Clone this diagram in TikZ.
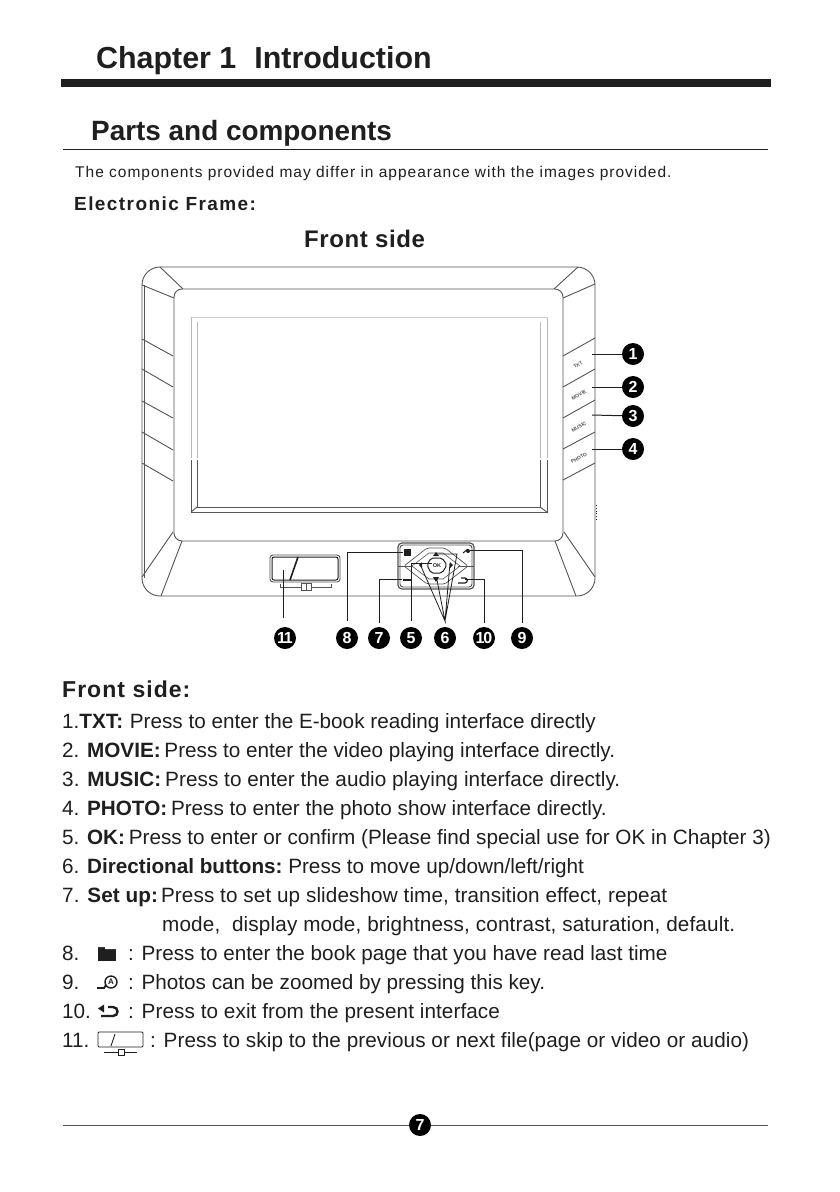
\documentclass[tikz,border=0pt]{standalone}
\usepackage{fontspec}
\setmainfont{Liberation Sans}
\usetikzlibrary{calc}
\definecolor{ink}{gray}{0.12}
\definecolor{wire}{gray}{0.33}
\tikzset{
  wirepen/.style={draw=wire,line width=0.9pt},
  leader/.style={draw=ink,line width=1pt},
  badge/.style={circle,fill=black,text=white,minimum size=22pt,inner sep=0pt,font=\bfseries\fontsize{16}{16}\selectfont},
  bodytext/.style={anchor=base west,inner sep=0pt,text=ink,font=\fontsize{20.7}{21}\selectfont},
  keytext/.style={inner sep=0pt,text=wire,font=\bfseries\fontsize{5}{5}\selectfont,rotate=30},
  headtext/.style={anchor=base west,inner sep=0pt,text=ink},
}
\begin{document}
\begin{tikzpicture}[x=1pt,y=-1pt]
\useasboundingbox (0,0) rectangle (840,1192);
\fill[white] (0,0) rectangle (840,1192);
% headings
\node[headtext,font=\bfseries\fontsize{30.4}{31}\selectfont] (chap) at (96,68) {Chapter 1\hspace{18pt}Introduction};
\fill[ink] (61,79) rectangle (771,87);
\node[headtext,font=\bfseries\fontsize{27.9}{28}\selectfont] (parts) at (91,140) {Parts and components};
\draw[ink,line width=1pt] (63,149) -- (768,149);
\node[headtext,font=\addfontfeatures{LetterSpace=6.4}\fontsize{15.5}{16}\selectfont] (note) at (75,177) {The components provided may differ in appearance with the images provided.};
\node[headtext,font=\bfseries\addfontfeatures{LetterSpace=7.5}\fontsize{19}{20}\selectfont] (ef) at (74,210) {Electronic Frame:};
\node[headtext,font=\bfseries\addfontfeatures{LetterSpace=2.5}\fontsize{24}{24}\selectfont] (fs) at (304,247) {Front side};
% frame
\draw[wirepen,rounded corners=18pt] (142,267) rectangle (595,596);
\draw[wirepen,rounded corners=8pt] (174,289) rectangle (563,541);
\draw[wirepen] (191,512) rectangle (547,317);
\draw[wirepen] (197,458) -- (197,507) -- (540,507) -- (540,458);
\draw[wirepen] (191,512) -- (197,507) (547,512) -- (540,507);
\fill[white] (189,316) rectangle (199,460) (538,316) rectangle (549,460) (189,315.5) rectangle (549,319);
\draw[gray!40,line width=1pt] (190,317) -- (548,317);
\draw[gray!55,line width=1pt] (191,318) -- (191,458) (197,322) -- (197,458) (540,322) -- (540,458) (547,318) -- (547,458);
\draw[wirepen] (142,285) -- (174,298) (160,267) -- (183,289) (563,298) -- (595,284) (554,289) -- (578,267);
\draw[wirepen] (142,577) -- (173,532) (161,596) -- (182,541) (595,577) -- (564,532) (576,596) -- (555,541);
\draw[wirepen] (144,285) -- (144,578);
\draw[wirepen] (142,339) -- (173,356) (142,369) -- (173,387) (142,401) -- (173,418) (142,432) -- (173,450) (142,463) -- (173,481);
\draw[wirepen] (563,356) -- (595,338) (563,387) -- (595,369) (563,418) -- (595,400) (563,449) -- (595,432) (563,480) -- (595,463);
\draw[ink,line width=0.8pt,dotted] (596,505) -- (596,520);
\node[keytext] (ktxt) at (578,365) {TXT};
\node[keytext] (kmov) at (579,395) {MOVIE};
\node[keytext] (kmus) at (579,427) {MUSIC};
\node[keytext] (kpho) at (579,458) {PHOTO};
% slider
\draw[wirepen,rounded corners=3pt] (270,555) rectangle (340,582);
\draw[ink,line width=1pt,rounded corners=2pt] (272,557) rectangle (338,580);
\draw[ink,line width=1.6pt] (298,557) -- (290,580);
\draw[wirepen,line width=0.7pt] (280,584) -- (280,587) -- (301,587) (311,587) -- (331,587) -- (331,584);
\draw[wirepen,line width=0.7pt] (301,583) rectangle (306,590) (306,583) rectangle (311,590);
% control cluster
\draw[wirepen,line width=1.2pt,rounded corners=4pt] (398,543) rectangle (474,589);
\draw[wirepen,rounded corners=3pt] (400,545) rectangle (472,587);
\draw[wirepen,line width=0.7pt,rounded corners=2pt] (404,566) -- (427,548) -- (445,548) -- (468,566) -- (445,584) -- (427,584) -- cycle;
\draw[wirepen,line width=0.6pt] (412,566) -- (429,553) -- (443,553) -- (460,566) -- (443,579) -- (429,579) -- cycle;
\draw[wirepen] (398,566) -- (411,566) (458,566) -- (474,566);
\draw[ink,fill=white,line width=1pt,rounded corners=2pt] (427,565) -- (431,558) -- (442,558) -- (447,565) -- (442,573) -- (431,573) -- cycle;
\node[inner sep=0pt,text=ink,font=\bfseries\fontsize{5.5}{6}\selectfont] (oklab) at (437,565.5) {OK};
\fill[ink] (436,552) -- (433,556) -- (439,556) -- cycle (436,582) -- (433,577) -- (439,577) -- cycle (419,565) -- (422,562) -- (422,568) -- cycle (453,565) -- (450,562) -- (450,568) -- cycle;
\fill[ink] (404,549) rectangle (411,556);
\draw[ink,line width=1pt] (468,549) -- (463,553);
\fill[ink] (468,551) circle (2pt);
\draw[ink,line width=1.2pt] (403,580) -- (412,580);
\draw[ink,line width=1.2pt] (461,578) -- (465,578) .. controls (468,578) and (468,583) .. (465,583) -- (458,583);
% badges
\node[badge] (b1) at (633,354) {1};
\node[badge] (b2) at (633,387) {2};
\node[badge] (b3) at (633,416) {3};
\node[badge] (b4) at (633,449) {4};
\node[badge] (b11) at (285,638) {\addfontfeatures{LetterSpace=-8}11};
\node[badge] (b8) at (347,638) {8};
\node[badge] (b7) at (379,638) {7};
\node[badge] (b5) at (411,638) {5};
\node[badge] (b6) at (445,638) {6};
\node[badge] (b10) at (484,638) {\addfontfeatures{LetterSpace=-8}10};
\node[badge] (b9) at (522,638) {9};
\coordinate (p1) at (592,354);
\coordinate (p2) at (592,387);
\coordinate (p3) at (592,415);
\coordinate (p4) at (592,449);
\draw[leader] (p1) -- (b1);
\draw[leader] (p2) -- (b2);
\draw[leader] (p3) -- (b3);
\draw[leader] (p4) -- (b4);
\coordinate (p11) at (283,570);
\coordinate (q11) at (283,618);
\draw[leader] (p11) -- (q11);
\coordinate (p8) at (403,552);
\coordinate (q8) at (347,621);
\draw[leader] (p8) -| (q8);
\coordinate (p7) at (402,579);
\coordinate (q7) at (379,623);
\draw[leader] (p7) -| (q7);
\coordinate (p5) at (432,563);
\coordinate (q5) at (411,621);
\draw[leader] (p5) -| (q5);
\coordinate (p10) at (465,579);
\coordinate (q10) at (484,623);
\draw[leader] (p10) -| (q10);
\coordinate (p9) at (470,550);
\coordinate (q9) at (522,623);
\draw[leader] (p9) -| (q9);
\coordinate (h6) at (445,621);
\coordinate (a6) at (420,564);
\coordinate (c6) at (437,580);
\coordinate (d6) at (450,563);
\coordinate (e6) at (437,554);
\draw[leader,line width=0.8pt] (a6) -- (h6) -- (c6) (d6) -- (h6) -- (457,554) -- (e6);
% list
\node[headtext,font=\bfseries\addfontfeatures{LetterSpace=4.5}\fontsize{23}{24}\selectfont] (fs2) at (62,697) {Front side:};
\node[bodytext] (l1) at (62,728) {1.\textbf{TXT:}\hspace{1pt} Press to enter the E-book reading interface directly};
\node[bodytext] (l2) at (62,757) {2. \textbf{MOVIE:}\hspace{-2pt} Press to enter the video playing interface directly.};
\node[bodytext,font=\addfontfeatures{LetterSpace=0.35}\fontsize{20.7}{21}\selectfont] (l3) at (62,786) {3. \textbf{MUSIC:}\hspace{-2pt} Press to enter the audio playing interface directly.};
\node[bodytext] (l4) at (62,815) {4. \textbf{PHOTO:}\hspace{-2pt} Press to enter the photo show interface directly.};
\node[bodytext] (l5) at (62,844) {5. \textbf{OK:}\hspace{-2pt} Press to enter or confirm (Please find special use for OK in Chapter 3)};
\node[bodytext] (l6) at (62,873) {6. \textbf{Directional buttons:}\hspace{-2pt} Press to move up/down/left/right};
\node[bodytext,font=\addfontfeatures{LetterSpace=0.5}\fontsize{20.7}{21}\selectfont] (l7) at (62,902) {7. \textbf{Set up:}\hspace{-5pt} Press to set up slideshow time, transition effect, repeat};
\node[bodytext,font=\addfontfeatures{LetterSpace=0.7}\fontsize{20.7}{21}\selectfont] (l7b) at (162,931) {mode,\ \ display mode, brightness, contrast, saturation, default.};
\node[bodytext] (l8) at (62,960) {8.};
\node[bodytext] (l8b) at (128,960) {: Press to enter the book page that you have read last time};
\node[bodytext] (l9) at (62,989) {9.};
\node[bodytext] (l9b) at (128,989) {: Photos can be zoomed by pressing this key.};
\node[bodytext] (l10) at (62,1018) {10.};
\node[bodytext,font=\addfontfeatures{LetterSpace=0.4}\fontsize{20.7}{21}\selectfont] (l10b) at (128,1018) {: Press to exit from the present interface};
\node[bodytext] (l11) at (62,1047) {11.};
\node[bodytext,font=\addfontfeatures{LetterSpace=0.4}\fontsize{20.7}{21}\selectfont] (l11b) at (150,1047) {: Press to skip to the previous or next file(page or video or audio)};
% list icons
\fill[ink] (98,946) rectangle (116,961);
\fill[white] (98,945.5) rectangle (105,947) (105,945.5) rectangle (116,949);
\draw[ink,line width=1.4pt] (111,982) circle (6pt);
\node[inner sep=0pt,text=ink,font=\bfseries\fontsize{8}{8}\selectfont] (ico9) at (111,982) {A};
\draw[ink,line width=1.8pt] (97,988) -- (104,988) -- (106,985);
\draw[ink,line width=2.4pt] (108,1007) -- (113,1007) .. controls (119,1007) and (119,1016) .. (113,1016) -- (101,1016);
\fill[ink] (98,1008.5) -- (104,1004.5) -- (104,1012.5) -- cycle;
\draw[ink,line width=0.9pt,rounded corners=1pt] (98,1032) rectangle (143,1047);
\draw[ink,line width=0.9pt] (115,1034) -- (111,1046);
\draw[ink,line width=0.7pt] (104,1052) -- (118,1052) (124,1052) -- (137,1052);
\draw[ink,line width=0.7pt] (118,1049) rectangle (124,1055);
% footer
\node[badge] (foot) at (420,1125) {7};
\coordinate (fl) at (63,1125);
\coordinate (fr) at (768,1125);
\draw[wirepen] (fl) -- (foot) -- (fr);
\end{tikzpicture}
\end{document}
